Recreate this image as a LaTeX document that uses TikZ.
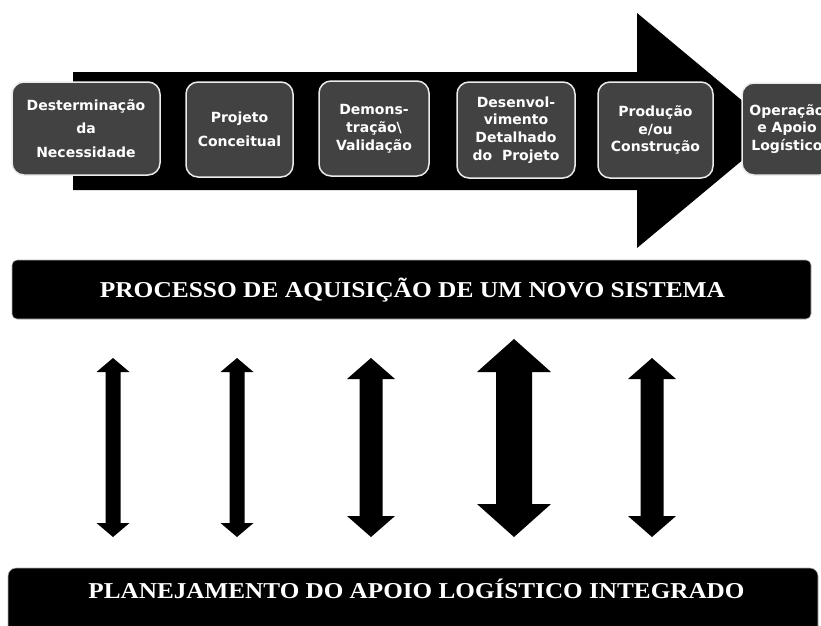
\documentclass[tikz,border=0pt]{standalone}
\usepackage{fontspec}
\setmainfont{Liberation Serif}
\newfontfamily\stagefont{DejaVu Sans}
\usepackage{graphicx}

% two-headed block arrow: centre x, top y, bottom y, half head width, half shaft width, head length
\newcommand\twowayarrow[6]{%
  \fill (#1,#2) -- ({#1+#4},{#2+#6}) -- ({#1+#5},{#2+#6}) -- ({#1+#5},{#3-#6})
        -- ({#1+#4},{#3-#6}) -- (#1,#3) -- ({#1-#4},{#3-#6}) -- ({#1-#5},{#3-#6})
        -- ({#1-#5},{#2+#6}) -- ({#1-#4},{#2+#6}) -- cycle;}

\begin{document}
\begin{tikzpicture}[x=1pt,y=-1pt,
  stage/.style={draw=black!8, line width=1.5pt, fill=black!74, rounded corners=12pt,
    text=white, align=center, inner sep=0pt,
    font=\stagefont\bfseries\fontsize{14}{17.8}\selectfont},
  widelines/.style={font=\stagefont\bfseries\fontsize{14}{23.5}\selectfont},
  banner/.style={fill=black, draw=black!30, line width=0.6pt, rounded corners=5pt, inner sep=0pt},
  bannertext/.style={text=white, font=\bfseries\fontsize{22.7}{26}\selectfont,
    inner sep=0pt, anchor=base}
]
\useasboundingbox (0,0) rectangle (821,625);
\clip (0,0) rectangle (821,625);

% big process arrow
\fill (73,72) -- (637,72) -- (637,13) -- (778,130.5) -- (637,248) -- (637,190) -- (73,190) -- cycle;

% stages of the acquisition process
\node[stage, widelines, minimum width=148pt, minimum height=93pt] (need) at (86,128.5)
  {Desterminação\\da\\Necessidade};
\node[stage, widelines, minimum width=107pt, minimum height=95pt] (concept) at (239.5,129.5)
  {Projeto\\Conceitual};
\node[stage, minimum width=110pt, minimum height=95pt] (demo) at (374,128.5)
  {Demons-\\tração\textbackslash\\Validação};
\node[stage, minimum width=118pt, minimum height=96pt] (detail) at (516,130)
  {Desenvol-\\vimento\\Detalhado\\do~ Projeto};
\node[stage, minimum width=115pt, minimum height=96pt] (prod) at (655.5,130)
  {Produção\\e/ou\\Construção};
\node[stage, minimum width=90pt, minimum height=92pt] (oper) at (787,129)
  {Operação\\e Apoio\\Logístico};

% upper banner
\node[banner, minimum width=799pt, minimum height=59pt] (procbar) at (411.5,289.5) {};
\node[bannertext] (proctitle) at (412.5,297)
  {\scalebox{1.12}[1]{PROCESSO DE AQUISIÇÃO DE UM NOVO SISTEMA}};

% lower banner
\node[banner, rounded corners=8pt, minimum width=810pt, minimum height=72pt] (ilsbar) at (413,604) {};
\node[bannertext] (ilstitle) at (416.5,598)
  {\scalebox{1.11}[1]{PLANEJAMENTO DO APOIO LOGÍSTICO INTEGRADO}};

% two-way links between the process and the logistic support planning
\twowayarrow{113}{358}{537}{16.5}{7.5}{14}
\twowayarrow{237}{358}{537}{16.5}{7.5}{14}
\twowayarrow{371}{358}{537}{24}{11.5}{21}
\twowayarrow{514}{339}{537}{37}{18}{33}
\twowayarrow{652}{358}{537}{24}{11.5}{21}
\end{tikzpicture}
\end{document}
